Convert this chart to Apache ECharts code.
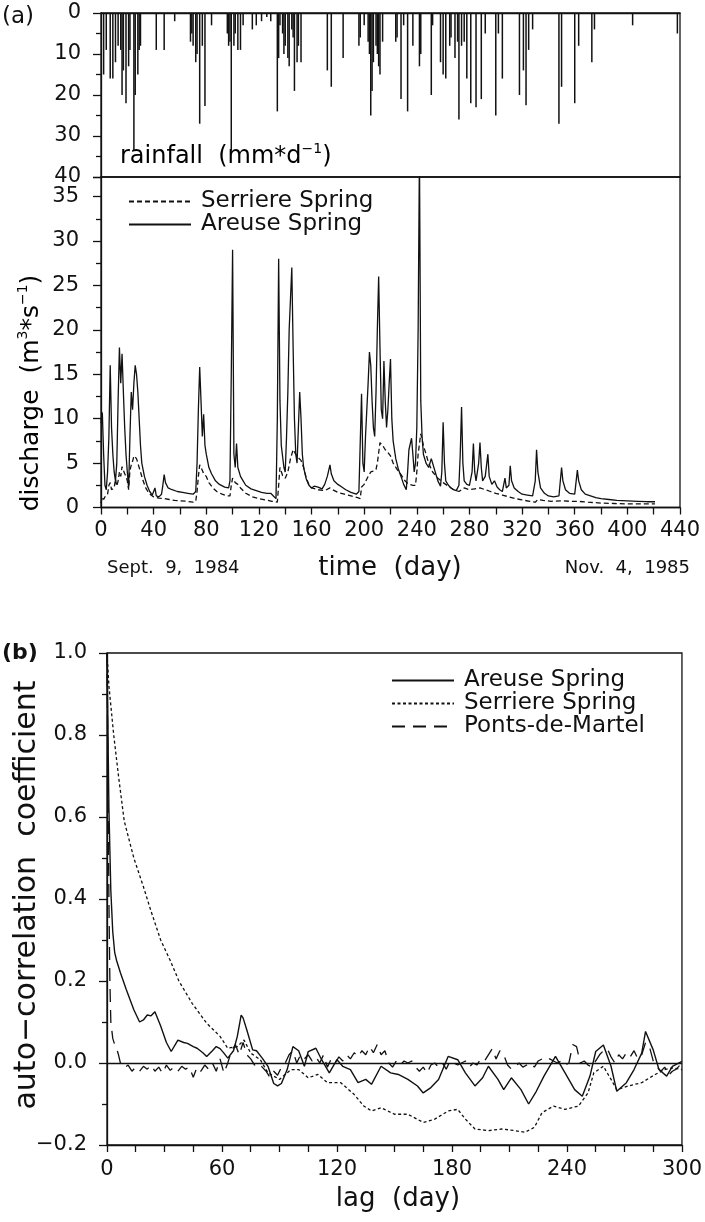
<!DOCTYPE html>
<html><head><meta charset="utf-8">
<script src="https://cdn.jsdelivr.net/npm/echarts@6/dist/echarts.min.js"></script>
<style>html,body{margin:0;padding:0;background:#fff}#c{width:705px;height:1222px}</style>
</head><body><div id="c"></div>
<script>
// ---------- DATA ----------
// daily rainfall (day, mm/d)
const rainDays = [2,4,7,9,11,13,15,16,17,19,21,22,25,26,28,29,30,42,48,56,68,69,70,72,73,75,77,79,84,96,97,98,99,101,102,104,106,108,115,118,122,126,129,134,135,136,138,139,140,142,143,145,146,147,149,150,152,172,175,184,196,197,200,203,204,205,206,207,209,210,211,212,214,224,225,228,230,233,237,242,243,251,252,258,260,262,265,266,269,271,272,274,276,278,281,285,289,292,300,302,305,318,321,323,325,328,348,350,360,363,373,375,404,438];
const rainMm   = [15,9,16,16,12,8,9,20,14,22,13,9,33.5,20,15,9,8,9,9,2,7,5,8,12,10,27,8,22.7,3,5,8,7,33.5,8,5,9,9,3,4,3,2,1,2,24,11,3,5,10,8,11,13,4,6,19,12,8,12,14,18,11,8,6,3,7,10,25,19,12,8,10,13,15,7,7,6,21,3,24,8,13,10,20,3,12,15,16,8,6,11,7,26,8,7,16,22,23,21,5,25,5,16,20,14,22.5,9,4,27,18,22,8,12,4,3,5];

// discharge (day, m3/s)
const areuseQ = [[0,9.5],[1,10.7],[2,6],[3,2.5],[4,2.0],[5,4],[6,8],[7,16],[8,9],[9,6],[10,4],[11,3],[12,5],[13,12],[14,18],[15,14],[16,17.3],[17,13],[18,9],[19,6],[20,4],[21,2.2],[22,8],[23,13],[24,11],[25,14],[26,16],[27,15],[28,13],[29,10],[30,7],[31,5],[33,3.5],[35,2.5],[37,1.8],[39,1.4],[40,1.2],[41,2.2],[42,1.3],[44,1.2],[46,1.5],[47,2.5],[48,3.7],[49,2.8],[51,2.2],[54,2.0],[58,1.8],[62,1.7],[66,1.6],[70,1.5],[72,1.8],[73,5],[74,11],[75,15.8],[76,12],[77,8],[78,10.5],[79,7],[80,6],[82,4.5],[84,3.8],[87,3],[90,2.6],[94,2.3],[97,2.2],[98,3],[99,15],[100,29],[101,6],[102,4.5],[103,7.2],[104,4.5],[106,3.5],[108,3],[110,2.5],[114,2.1],[118,1.9],[122,1.7],[126,1.6],[129,1.6],[131,1.3],[133,1.0],[134,10],[135,28],[136,12],[137,7],[139,4.5],[140,4],[141,8],[142,13],[143,20],[145,27],[146,18],[147,10],[148,6],[149,5],[150,9],[151,13],[152,10],[153,6],[154,4.5],[156,3.2],[158,2.5],[160,2.2],[162,2.4],[165,2.3],[168,2.1],[170,2.6],[172,3.5],[174,4.8],[175,3.8],[177,3],[180,2.6],[183,2.3],[186,2.0],[190,1.7],[194,1.5],[196,1.8],[198,12.8],[199,5],[200,4],[201,8],[203,14],[204,17.5],[205,16],[206,12],[207,9],[208,8],[209,13],[210,20],[211,26],[212,18],[213,11],[214,10],[215,16.5],[216,12],[217,9],[218,11],[219,14],[220,16.7],[221,10],[222,7.5],[224,5.5],[226,4.3],[228,3.5],[230,2.6],[232,2.0],[233,4],[234,6.5],[236,7.8],[237,6],[238,4],[239,5],[240,9],[241,20],[242,40],[243,12],[244,8],[245,6],[247,5],[249,4.5],[251,5.5],[252,5.3],[254,4],[256,3],[258,2.4],[259,4],[260,9.6],[261,5],[262,3],[264,2.5],[266,2.2],[268,2.0],[270,1.9],[272,2.5],[273,6],[274,11.3],[275,5],[276,3],[278,2.6],[280,2.5],[282,4],[283,7.2],[284,4],[285,3],[287,5],[288,7.3],[289,4.5],[290,3],[292,3.5],[294,6],[295,3.5],[297,2.6],[299,3],[301,2.3],[303,2.0],[305,1.8],[307,3.3],[308,2.2],[310,2.5],[311,4.7],[312,3],[314,2.2],[317,1.8],[320,1.5],[324,1.4],[328,1.3],[330,3],[331,6.5],[332,4],[334,2.2],[337,1.6],[340,1.3],[344,1.2],[348,1.3],[350,4.5],[351,3],[353,2],[356,1.6],[360,1.5],[362,4.2],[363,3],[365,2],[368,1.5],[372,1.3],[376,1.1],[380,1.0],[386,0.9],[392,0.8],[400,0.75],[408,0.7],[415,0.65],[421,0.65]];
const serriereQ = [[0,0.5],[1,1.2],[2,0.9],[3,1.2],[5,1.5],[6,2.5],[7,2.8],[8,2.0],[10,2.2],[11,3.2],[12,2.4],[13,3],[14,4.0],[15,3.5],[16,4.6],[17,4.2],[18,3.8],[19,3.5],[20,3],[21,2.0],[22,4.2],[23,4.8],[24,5.2],[25,5.8],[26,5.9],[27,5.5],[28,5],[30,4],[32,3],[34,2.2],[36,1.7],[38,1.4],[40,1.2],[44,1.05],[48,1.0],[52,0.9],[56,0.8],[60,0.75],[65,0.7],[70,0.6],[72,0.7],[73,1.8],[74,3.5],[75,4.8],[77,4.2],[78,3.8],[80,3.5],[82,2.8],[85,2.2],[88,1.8],[92,1.5],[96,1.3],[98,1.3],[99,2.5],[100,3.3],[102,2.8],[104,2.6],[106,2.2],[110,1.6],[115,1.2],[120,1.0],[125,0.85],[130,0.7],[134,0.6],[135,2.5],[136,4.5],[138,3.6],[140,3.3],[142,4],[144,5.5],[146,6.5],[148,6.0],[150,5.6],[152,5.3],[154,4.5],[156,3.3],[158,2.6],[160,2.2],[165,2.0],[170,1.9],[174,2.2],[176,2.0],[180,1.7],[185,1.5],[190,1.3],[195,1.1],[197,1.0],[198,2.3],[200,2.6],[203,3.5],[205,4.0],[207,4.1],[209,4.3],[210,5],[212,7.3],[214,7.0],[216,6.5],[218,6.2],[220,5.8],[222,5.0],[225,4.3],[228,3.7],[231,3.0],[234,2.6],[237,2.5],[239,2.5],[240,4],[241,6],[243,8.3],[245,7],[247,6],[249,5],[252,4.0],[256,3.3],[260,2.8],[264,2.4],[268,2.0],[272,1.8],[276,2.2],[280,2.0],[284,2.1],[288,2.2],[292,2.0],[296,1.8],[300,1.6],[305,1.4],[310,1.2],[315,1.0],[320,0.85],[326,0.7],[330,0.6],[332,0.9],[336,0.8],[342,0.7],[350,0.75],[356,0.7],[362,0.7],[370,0.6],[380,0.5],[390,0.45],[400,0.4],[410,0.4],[421,0.4]];

// auto-correlation (lag day, r)
const areuseAcf = [[0,1.0],[1,0.62],[2,0.42],[3,0.32],[4,0.27],[5,0.25],[7,0.22],[10,0.18],[14,0.13],[17,0.10],[19,0.105],[21,0.117],[23,0.115],[25,0.125],[28,0.09],[31,0.05],[33.5,0.028],[37,0.056],[40,0.05],[42,0.048],[45,0.04],[47,0.036],[50,0.025],[52,0.016],[55,0.03],[57,0.04],[59,0.035],[61,0.024],[63,0.012],[66,0.03],[68,0.065],[70,0.117],[71,0.11],[73,0.08],[76,0.032],[78,0.03],[81,0.012],[84,-0.008],[87,-0.05],[89,-0.056],[91,-0.05],[94,-0.016],[97,0.04],[100,0.03],[103,-0.008],[105,0.028],[109,0.036],[112,0.008],[116,-0.024],[120,0.008],[123,-0.008],[127,-0.016],[131,-0.048],[135,-0.04],[138,-0.052],[143,-0.008],[148,-0.024],[152,-0.028],[157,-0.04],[162,-0.056],[165,-0.073],[169,-0.06],[173,-0.04],[178,0.016],[183,0.008],[187,-0.024],[192,-0.056],[196,-0.036],[199,-0.008],[204,-0.04],[207,-0.065],[211,-0.036],[216,-0.065],[220,-0.1],[224,-0.069],[228,-0.032],[234,0.016],[239,-0.024],[244,-0.065],[248,-0.081],[252,-0.032],[255,0.028],[259,0.044],[263,-0.008],[266,-0.069],[271,-0.048],[275,-0.016],[279,0.024],[281,0.077],[285,0.032],[288,-0.016],[292,-0.032],[295,-0.008],[300,0.004]];
const serriereAcf = [[0,1.0],[1,0.92],[3.5,0.8],[6,0.7],[9,0.59],[14,0.5],[19,0.43],[23,0.37],[28,0.3],[33,0.25],[37.5,0.2],[44.5,0.145],[52,0.097],[59,0.065],[63,0.036],[68,0.04],[71.5,0.056],[75,0.024],[80,0.008],[84,-0.024],[90,-0.04],[96,-0.016],[100,-0.016],[105,-0.036],[110,-0.028],[115,-0.048],[122,-0.048],[129,-0.077],[134,-0.105],[138,-0.117],[143,-0.109],[150,-0.125],[157,-0.125],[165,-0.145],[171,-0.137],[178,-0.117],[183,-0.113],[187,-0.137],[192,-0.161],[199,-0.165],[206,-0.161],[213,-0.165],[218,-0.169],[223,-0.157],[227,-0.121],[233,-0.105],[239,-0.113],[246,-0.105],[251,-0.073],[254,-0.024],[259,-0.008],[263,-0.04],[266,-0.065],[272,-0.056],[279,-0.048],[286,-0.028],[291,-0.016],[295,-0.012],[300,-0.016]];
const pontsAcf = [[0,1.0],[0.5,0.7],[1,0.4],[1.5,0.2],[2,0.1],[3,0.06],[4,0.045],[5,0.035],[6,0.02],[7,0.0],[9,-0.012],[11,-0.005],[13,-0.02],[15,-0.01],[17,-0.02],[19,-0.008],[21,-0.015],[23,-0.005],[25,-0.02],[27,-0.01],[29,-0.025],[31,-0.005],[33,-0.018],[35,-0.01],[37,-0.02],[39,-0.008],[41,-0.015],[43,-0.01],[45,-0.035],[47,-0.01],[49,-0.02],[51,-0.005],[53,-0.015],[55,0.0],[57,-0.02],[59,0.01],[61,-0.025],[63,0.0],[65,0.03],[67,0.045],[69,0.02],[71,0.05],[73,0.02],[75,0.01],[77,-0.005],[79,0.0],[81,-0.01],[83,-0.02],[85,-0.035],[87,-0.02],[89,-0.03],[91,-0.01],[93,0.0],[95,0.02],[97,0.03],[99,0.0],[101,0.02],[103,0.01],[105,0.02],[107,0.005],[109,0.015],[111,0.0],[113,0.02],[115,-0.01],[117,0.01],[119,0.0],[121,0.015],[123,0.005],[125,0.02],[127,0.01],[129,0.025],[131,0.015],[133,0.03],[135,0.02],[137,0.04],[139,0.025],[141,0.045],[143,0.02],[145,0.03],[147,0.0],[149,-0.01],[151,0.005],[153,-0.005],[155,0.005],[157,0.0],[159,0.005],[161,-0.01],[163,-0.02],[165,-0.01],[167,-0.025],[169,-0.005],[171,0.0],[173,-0.01],[175,0.0],[177,-0.015],[179,0.005],[181,0.0],[183,-0.005],[185,0.0],[187,0.005],[189,-0.01],[191,0.0],[193,-0.005],[195,0.01],[197,0.005],[199,0.02],[201,0.035],[203,0.01],[205,0.03],[207,0.02],[209,-0.005],[211,-0.015],[213,-0.01],[215,0.0],[217,-0.01],[219,-0.005],[221,0.0],[223,-0.01],[225,0.005],[227,0.01],[229,0.005],[231,0.01],[233,0.005],[235,0.0],[237,0.005],[239,-0.005],[241,0.0],[243,0.045],[245,0.04],[247,0.0],[249,0.005],[251,-0.005],[253,-0.01],[255,0.005],[257,0.02],[259,0.03],[261,0.035],[263,0.015],[265,0.0],[267,0.02],[269,0.01],[271,0.025],[273,0.015],[275,0.03],[277,0.01],[279,0.02],[281,0.05],[283,0.04],[285,0.005],[287,-0.01],[289,-0.02],[291,-0.01],[293,-0.03],[295,-0.02],[297,-0.015],[299,-0.005],[300,-0.02]];

// axis ticks
const rainTicks = [0, 40, 10];        // min, max, step
const dischargeTicks = [0, 35, 5];
const timeTicks = [0, 440, 40];
const lagTicks = [0, 300, 60];
const acfTicks = [-0.2, 1.0, 0.2];

// ---------- CHART ----------
const FONT = 'DejaVu Sans';
const INK = '#111';
const line = {lineStyle:{color:INK, width:1.3}};
const chart = echarts.init(document.getElementById('c'), null, {renderer:'canvas'});

function yAx(grid, t, extra) {
  return Object.assign({
    gridIndex:grid, type:'value', min:t[0], max:t[1], interval:t[2],
    axisLine:{show:true, ...line}, splitLine:{show:false},
    axisTick:{show:true, length:8, ...line},
    minorTick:{show:true, splitNumber:2, length:5, ...line},
    axisLabel:{fontFamily:FONT, fontSize:21, color:INK, margin:20}
  }, extra || {});
}
function xAx(grid, t, minor, extra) {
  return Object.assign({
    gridIndex:grid, type:'value', min:t[0], max:t[1], interval:t[2],
    axisLine:{show:true, onZero:false, ...line}, splitLine:{show:false},
    axisTick:{show:true, length:7, ...line},
    minorTick:{show:true, splitNumber:minor, length:7, ...line},
    axisLabel:{fontFamily:FONT, fontSize:21, color:INK, margin:13}
  }, extra || {});
}

const legendText = {fontFamily:FONT, fontSize:23, color:INK, lineHeight:23, padding:[0,0,0,5]};
const sup = {fontFamily:FONT, fontSize:14, color:INK, lineHeight:14, verticalAlign:'top'};
const legendBase = {orient:'vertical', itemHeight:12, itemGap:0, textStyle:legendText,
  selectedMode:false, itemStyle:{opacity:0, borderWidth:0}, lineStyle:{color:INK}};

const lineSeries = (name, xi, data, width, type) => ({
  type:'line', name, xAxisIndex:xi, yAxisIndex:xi, symbol:'none', showSymbol:false,
  itemStyle:{color:INK}, lineStyle:{color:INK, width, type}, data
});

const acfAreuse = lineSeries('Areuse Spring ', 2, areuseAcf, 1.4, 'solid');
acfAreuse.markLine = {silent:true, symbol:'none', label:{show:false},
  lineStyle:{color:INK, width:1.4, type:'solid'}, data:[{yAxis:0}]};

chart.setOption({
  animation:false,
  backgroundColor:'#fff',
  grid:[
    {left:101, top:13, width:579, height:164, show:true, borderColor:INK, borderWidth:1.3},
    {left:101, top:177, width:579, height:330.5, show:true, borderColor:INK, borderWidth:1.3},
    {left:107, top:653, width:577, height:492, show:true, borderColor:INK, borderWidth:1.3}
  ],
  xAxis:[
    xAx(0, timeTicks, 2, {position:'top', axisTick:{show:false}, minorTick:{show:false}, axisLabel:{show:false}}),
    xAx(1, timeTicks, 2),
    xAx(2, lagTicks, 4, {axisLabel:{fontFamily:FONT, fontSize:21, color:INK, margin:14}})
  ],
  yAxis:[
    yAx(0, rainTicks, {inverse:true}),
    yAx(1, [dischargeTicks[0], 37.2, dischargeTicks[2]], {axisLabel:{fontFamily:FONT, fontSize:21, color:INK, margin:22, showMaxLabel:false}}),
    yAx(2, acfTicks, {axisLabel:{fontFamily:FONT, fontSize:21, color:INK, margin:20,
      formatter:v => (v < -1e-9 ? '\u2212' : '') + Math.abs(v).toFixed(1)}})
  ],
  legend:[
    Object.assign({data:['Serriere Spring','Areuse Spring'], left:123, top:185, itemWidth:62}, legendBase),
    Object.assign({data:['Areuse Spring ','Serriere Spring ','Ponts-de-Martel'], left:386, top:664, itemWidth:62}, legendBase)
  ],
  series:[
    {type:'bar', name:'rainfall', xAxisIndex:0, yAxisIndex:0, barWidth:1.5,
     itemStyle:{color:INK}, data:rainDays.map((d,i)=>[d, rainMm[i]])},
    lineSeries('Serriere Spring', 1, serriereQ, 1.3, [5,3]),
    lineSeries('Areuse Spring', 1, areuseQ, 1.3, 'solid'),
    acfAreuse,
    lineSeries('Serriere Spring ', 2, serriereAcf, 1.3, [3,2.5]),
    lineSeries('Ponts-de-Martel', 2, pontsAcf, 1.3, [13,8])
  ],
  graphic:[
    {type:'text', left:2, top:6, style:{text:'(a)', font:'23px "DejaVu Sans"', fill:INK}},
    {type:'text', left:2, top:642, style:{text:'(b)', font:'bold 22px "DejaVu Sans"', fill:INK}},
    {type:'text', x:120, y:157, style:{text:'{n|rainfall  (mm*d}{s|\u22121}{n|)}', verticalAlign:'middle',
      rich:{n:{fontFamily:FONT, fontSize:24, color:INK, lineHeight:30}, s:sup}}},
    {type:'text', x:31, y:393, rotation:Math.PI/2, style:{text:'{n|discharge  (m}{s|3}{n|*s}{s|\u22121}{n|)}', align:'center', verticalAlign:'middle',
      rich:{n:{fontFamily:FONT, fontSize:25, color:INK, lineHeight:30}, s:sup}}},
    {type:'text', x:390, y:568, style:{text:'time  (day)', align:'center', verticalAlign:'middle', font:'26px "DejaVu Sans"', fill:INK}},
    {type:'text', x:107, y:568, style:{text:'Sept.  9,  1984', align:'left', verticalAlign:'middle', font:'18px "DejaVu Sans"', fill:INK}},
    {type:'text', x:690, y:568, style:{text:'Nov.  4,  1985', align:'right', verticalAlign:'middle', font:'18px "DejaVu Sans"', fill:INK}},
    {type:'text', x:27, y:895, rotation:Math.PI/2, style:{text:'auto\u2212correlation  coefficient', align:'center', verticalAlign:'middle', font:'30px "DejaVu Sans"', fill:INK}},
    {type:'text', x:398, y:1199, style:{text:'lag  (day)', align:'center', verticalAlign:'middle', font:'26px "DejaVu Sans"', fill:INK}}
  ]
});
</script>
</body></html>
